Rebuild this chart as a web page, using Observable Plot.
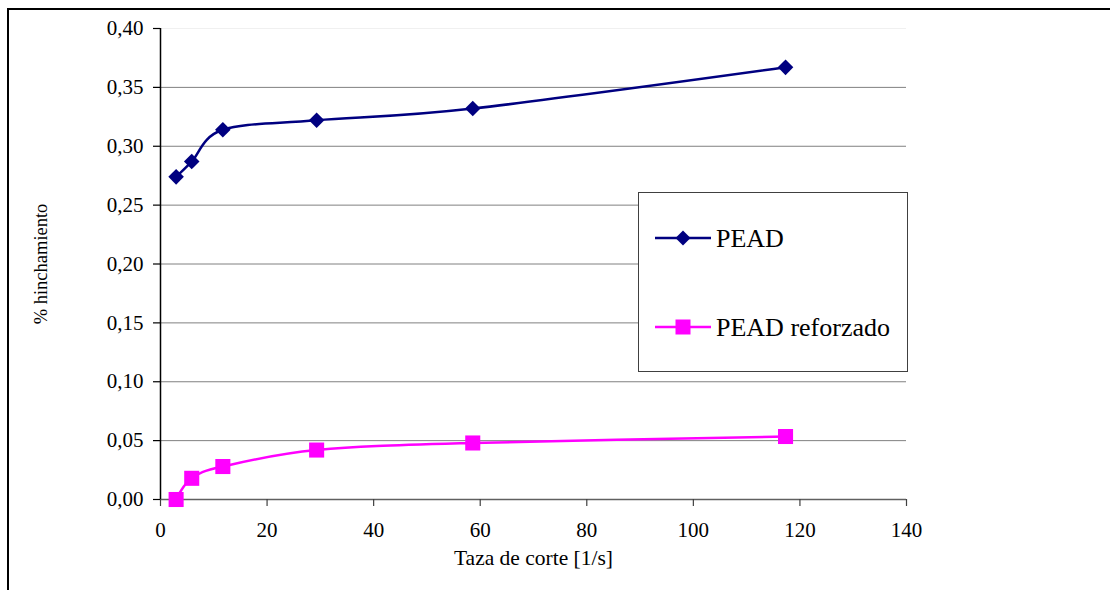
<!DOCTYPE html>
<html>
<head>
<meta charset="utf-8">
<script src="https://cdn.jsdelivr.net/npm/d3@7"></script>
<script src="https://cdn.jsdelivr.net/npm/@observablehq/plot@0.6"></script>
<style>
  html, body { margin: 0; padding: 0; background: white; overflow: hidden; }
  #wrap { position: relative; width: 1110px; height: 590px; overflow: hidden; font-family: "Liberation Serif", "Times New Roman", serif; }
  #frame { position: absolute; left: 7px; top: 8px; width: 1300px; height: 800px; border-left: 2px solid black; border-top: 2px solid black; pointer-events: none; }
  #legend { position: absolute; left: 638px; top: 192px; width: 268px; height: 178px; border: 1px solid #404040; background: white; }
  #chart svg text { font-family: "Liberation Serif", "Times New Roman", serif; }
</style>
</head>
<body>
<div id="wrap">
  <div id="chart"></div>
  <div id="frame"></div>
  <div id="legend"></div>
</div>
<script>
// Data
const shearRate = [2.93, 5.86, 11.7, 29.3, 58.6, 117.3];
const peadValues = [0.274, 0.287, 0.314, 0.322, 0.332, 0.367];
const reforzadoValues = [0.000, 0.018, 0.028, 0.042, 0.048, 0.0535];
const seriesNames = ["PEAD", "PEAD reforzado"];
const seriesColors = ["#000080", "#FF00FF"];
const xTicks = [0, 20, 40, 60, 80, 100, 120, 140];
const yTicks = [0, 0.05, 0.10, 0.15, 0.20, 0.25, 0.30, 0.35, 0.40];
const xLabel = "Taza de corte [1/s]";
const yLabel = "% hinchamiento";

const pead = shearRate.map((x, i) => ({x, y: peadValues[i]}));
const reforzado = shearRate.map((x, i) => ({x, y: reforzadoValues[i]}));
const fmt = d => d.toFixed(2).replace(".", ",");
const FONT = "Liberation Serif";

const chart = Plot.plot({
  width: 1110,
  height: 590,
  marginLeft: 160,
  marginRight: 204,
  marginTop: 28,
  marginBottom: 91,
  style: "font-family: 'Liberation Serif', serif; font-size: 21px; color: black; background: transparent; overflow: visible;",
  x: {domain: [0, 140]},
  y: {domain: [0, 0.4]},
  marks: [
    Plot.ruleY(yTicks.filter(d => d > 0 && d < 0.4), {stroke: "#808080", strokeWidth: 1, strokeOpacity: 1}),
    Plot.ruleY([0.4], {stroke: "#f0f0f0", strokeWidth: 1}),
    Plot.ruleY([0], {stroke: "#606060", strokeWidth: 1.5}),
    Plot.ruleX([0], {stroke: "black", strokeWidth: 1.5}),
    Plot.axisX({ticks: xTicks, tickSize: 7, tickPadding: 16, stroke: "#404040", strokeWidth: 1.2,
      label: null, fontSize: 21, fontFamily: FONT}),
    Plot.axisX({ticks: [], label: xLabel, labelAnchor: "center", labelArrow: "none", labelOffset: 65, fontSize: 21.5, fontFamily: FONT}),
    Plot.axisY({ticks: yTicks, tickSize: 7, tickPadding: 10, tickFormat: fmt, stroke: "black", strokeWidth: 1.2,
      label: null, fontSize: 21, fontFamily: FONT}),
    Plot.axisY({ticks: [], label: yLabel, labelAnchor: "center", labelArrow: "none", labelOffset: 127, fontSize: 18.5, fontFamily: FONT}),
    Plot.line(pead, {x: "x", y: "y", curve: "cardinal", stroke: seriesColors[0], strokeWidth: 2.5}),
    Plot.line(reforzado, {x: "x", y: "y", curve: "cardinal", stroke: seriesColors[1], strokeWidth: 2.5}),
    Plot.dot(pead, {x: "x", y: "y", symbol: "diamond2", r: 7, fill: seriesColors[0], stroke: "none"}),
    Plot.dot(reforzado, {x: "x", y: "y", symbol: "square", r: 8.5, fill: seriesColors[1], stroke: "none"})
  ]
});
document.getElementById("chart").appendChild(chart);

// Legend
const leg = d3.select("#legend").append("svg")
  .attr("width", 268).attr("height", 178)
  .style("font-family", "Liberation Serif").style("font-size", "26px");
const rowsY = [45, 134];
seriesNames.forEach((name, i) => {
  const g = leg.append("g").attr("transform", `translate(0,${rowsY[i]})`);
  g.append("line").attr("x1", 16).attr("x2", 72).attr("y1", 0).attr("y2", 0)
    .attr("stroke", seriesColors[i]).attr("stroke-width", 2.5);
  if (i === 0) {
    g.append("path").attr("d", "M44,-7.5L51.5,0L44,7.5L36.5,0Z").attr("fill", seriesColors[i]);
  } else {
    g.append("rect").attr("x", 36.5).attr("y", -7.5).attr("width", 15).attr("height", 15).attr("fill", seriesColors[i]);
  }
  g.append("text").attr("x", 77).attr("y", 9).attr("fill", "black").text(name);
});
</script>
</body>
</html>
